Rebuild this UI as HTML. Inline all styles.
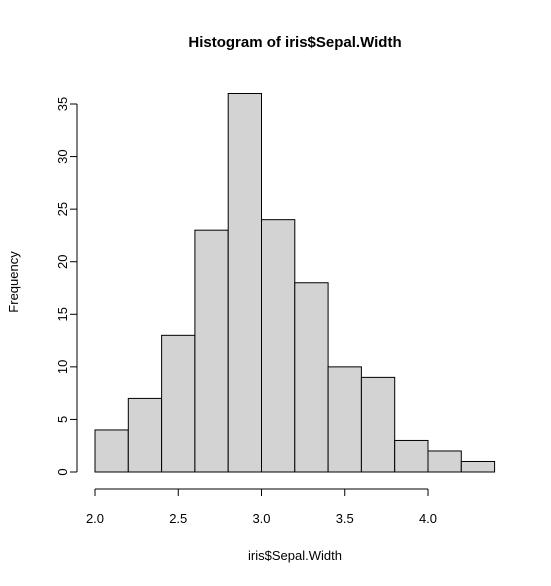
<!DOCTYPE html>
<html><head><meta charset="utf-8"><style>
html,body{margin:0;padding:0;background:#fff;}
svg{display:block;font-family:"Liberation Sans",Arial,sans-serif;}
</style></head><body>
<svg id="chart" width="551" height="586" viewBox="0 0 551 586">
<text x="295" y="47" text-anchor="middle" font-size="15" font-weight="bold">Histogram of iris$Sepal.Width</text>
<text x="295" y="560" text-anchor="middle" font-size="13">iris$Sepal.Width</text>
<text x="0" y="0" transform="translate(18,282) rotate(-90)" text-anchor="middle" font-size="13">Frequency</text>
<g id="bars"></g>
<g id="xaxis"></g>
<g id="yaxis"></g>
</svg>
<script>
const breaks = [2.0,2.2,2.4,2.6,2.8,3.0,3.2,3.4,3.6,3.8,4.0,4.2,4.4];
const counts = [4,7,13,23,36,24,18,10,9,3,2,1];
const xTicks = [2.0,2.5,3.0,3.5,4.0];
const xTickLabels = ["2.0","2.5","3.0","3.5","4.0"];
const yTicks = [0,5,10,15,20,25,30,35];

const NS="http://www.w3.org/2000/svg";
function X(v){return 95+(v-2.0)*166.5;}
function Y(v){return 472-v*10.514;}
function mk(tag,attrs,parent){const e=document.createElementNS(NS,tag);for(const k in attrs)e.setAttribute(k,attrs[k]);parent.appendChild(e);return e;}
const bars=document.getElementById('bars');
counts.forEach((c,i)=>{
  const r=mk('rect',{x:X(breaks[i]),y:Y(c),width:X(breaks[i+1])-X(breaks[i]),height:Y(0)-Y(c),fill:'#d3d3d3',stroke:'#000','stroke-width':1},bars);
  
  
});
const xa=document.getElementById('xaxis');
mk('line',{x1:X(xTicks[0]),x2:X(xTicks[xTicks.length-1]),y1:489,y2:489,stroke:'#000'},xa);
xTicks.forEach((t,i)=>{
  mk('line',{x1:X(t),x2:X(t),y1:489,y2:496,stroke:'#000'},xa);
  const tx=mk('text',{x:X(t),y:523,'text-anchor':'middle','font-size':13},xa);
  tx.textContent=xTickLabels[i];
  
  
});
const ya=document.getElementById('yaxis');
mk('line',{x1:77,x2:77,y1:Y(yTicks[0]),y2:Y(yTicks[yTicks.length-1]),stroke:'#000'},ya);
yTicks.forEach(t=>{
  mk('line',{x1:70,x2:77,y1:Y(t),y2:Y(t),stroke:'#000'},ya);
  const tx=mk('text',{x:0,y:0,transform:'translate(67,'+Y(t)+') rotate(-90)','text-anchor':'middle','font-size':13},ya);
  tx.textContent=String(t);
  
  
});
</script>
</body></html>
